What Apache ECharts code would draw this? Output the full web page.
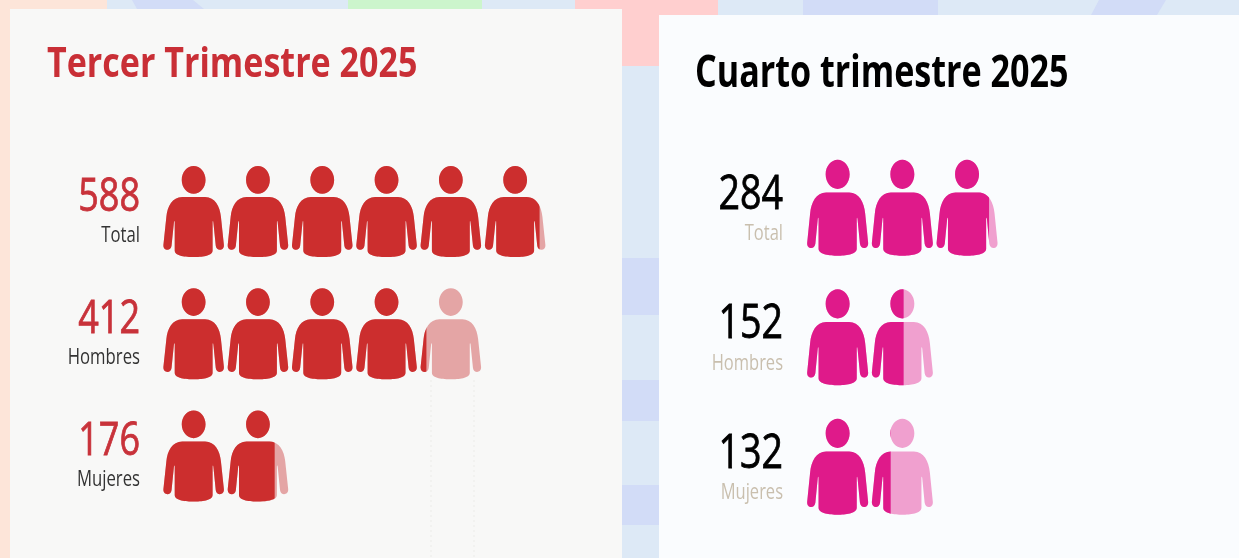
<!DOCTYPE html>
<html><head><meta charset="utf-8">
<style>html,body{margin:0;padding:0;background:#dde9f6}#c{width:1239px;height:558px}</style>
<script src="https://cdn.jsdelivr.net/npm/echarts@6/dist/echarts.min.js"></script>
</head><body><div id="c"></div>
<script>
const categories = ['Total', 'Hombres', 'Mujeres'];
const tercerValues = [588, 412, 176];
const cuartoValues = [284, 152, 132];
const titles = ['Tercer Trimestre 2025', 'Cuarto trimestre 2025'];
const personsPerIcon = 100;
const personIcon = 'path://M19 33L42 33C52 33 57 43 58 54L61 84C61.3 90.5 53.5 91 52.8 85L50.4 60C50.2 58 49.6 58 49.6 60L49.6 90C49.6 96 38 97 30.5 97C23 97 11.4 96 11.4 90L11.4 60C11.4 58 10.8 58 10.6 60L8.2 85C7.5 91 -0.3 90.5 0 84L3 54C4 43 9 33 19 33ZM30.5 0C37 0 42.5 6.5 42.5 14.7C42.5 23 37 29.5 30.5 29.5C24 29.5 18.5 23 18.5 14.7C18.5 6.5 24 0 30.5 0Z';
const FONT = '"Open Sans",sans-serif';

function rect(x, y, w, h, fill, z) { return {type:'rect', silent:true, z:z||-3, shape:{x,y,width:w,height:h}, style:{fill}}; }
function poly(points, fill) { return {type:'polygon', silent:true, z:-3, shape:{points}, style:{fill}}; }
function dots(x, y1, y2) { return {type:'line', silent:true, z:-1, shape:{x1:x,y1:y1,x2:x,y2:y2}, style:{stroke:'#f0f0ee',lineWidth:1.5,lineDash:[2,3]}}; }
function label(text, x, y, size, scale, color, thicken) {
  const style = {text, fill:color, font:'normal '+size+'px '+FONT, align:'right', verticalAlign:'middle'};
  if (thicken) { style.stroke = color; style.lineWidth = thicken; }
  return {type:'text', silent:true, z:10, x, y, scaleX:scale, style};
}
function titleText(text, x, y, size, scale, color) {
  return {type:'text', silent:true, z:10, x, y, scaleX:scale,
    style:{text, fill:color, font:'bold '+size+'px '+FONT, align:'left', verticalAlign:'middle'}};
}

const BLUE='#dde9f6', PERI='#d2dcf7', PEACH='#fde5d9', PINK='#ffcfcf', GREEN='#ccf5cc';
const background = [
  rect(0,0,1239,558,BLUE),
  rect(0,0,107,558,PEACH),
  poly([[132,0],[193,0],[204,9],[137,9]],PERI),
  rect(348,0,134,9,GREEN),
  rect(575,0,143,15,PINK),
  rect(622,0,37,66,PINK),
  rect(622,258,37,57,PERI),
  rect(622,380,37,41,PERI),
  rect(622,485,37,40,PERI),
  rect(803,0,135,15,PERI),
  poly([[1099,0],[1166,0],[1157,15],[1091,15]],PERI),
  rect(10,9,612,549,'#f8f8f7',-2),
  rect(659,15,580,543,'#fafcfe',-2),
  dots(431,380,558),
  dots(474,380,558)
];

function panel(idx, values, g, dark, pale, iconW, iconH, margin) {
  const bound = values.map(v => Math.ceil(v / personsPerIcon) * personsPerIcon);
  return {
    grid: {left:g.left, top:g.top, width:g.unit*6, height:g.height, containLabel:false},
    xAxis: {type:'value', gridIndex:idx, min:0, max:600, show:false},
    yAxis: {type:'category', gridIndex:idx, inverse:true, data:categories, show:false},
    series: [
      {type:'pictorialBar', xAxisIndex:idx, yAxisIndex:idx, symbol:personIcon, symbolRepeat:'fixed', symbolMargin:margin+'!',
       symbolSize:[iconW,iconH], animation:false, z:2, itemStyle:{color:pale}, silent:true,
       data:bound.map(b=>({value:b, symbolBoundingData:b}))},
      {type:'pictorialBar', xAxisIndex:idx, yAxisIndex:idx, symbol:personIcon, symbolRepeat:'fixed', symbolMargin:margin+'!', symbolClip:true,
       symbolSize:[iconW,iconH], animation:false, z:3, itemStyle:{color:dark}, silent:true,
       data:values.map((v,i)=>({value:v, symbolBoundingData:bound[i]}))}
    ]
  };
}
const a = panel(0, tercerValues, {left:161.5,top:150.5,height:366.6,unit:64.3},'#cc2e2e','#e4a5a5',60.5,91,1.9);
const b = panel(1, cuartoValues, {left:805.3,top:143,height:388.5,unit:64.7},'#df1a8a','#f0a0cf',61,96,1.85);

const chart = echarts.init(document.getElementById('c'));
chart.setOption({
  animation:false,
  backgroundColor:BLUE,
  grid:[a.grid,b.grid], xAxis:[a.xAxis,b.xAxis], yAxis:[a.yAxis,b.yAxis],
  series:[...a.series,...b.series]
});
const texts = [
  titleText(titles[0], 47, 65.5, 42, 0.811, '#c92f36'),
  titleText(titles[1], 695, 74, 44, 0.775, '#000000')
];
categories.forEach((c, i) => {
  const yA = chart.convertToPixel({yAxisIndex:0}, c);
  const yB = chart.convertToPixel({yAxisIndex:1}, c);
  texts.push(label(String(tercerValues[i]), 140, yA-13.5, 45, 0.8, '#c8323a', 0.8));
  texts.push(label(c, 140, yA+24, 22, 0.76, '#333333'));
  texts.push(label(String(cuartoValues[i]), 783, yB-12.5, 47, 0.8, '#000000', 0.8));
  texts.push(label(c, 783, yB+26, 22, 0.75, '#c9bfae'));
});
chart.setOption({graphic:[...background, ...texts]});
</script></body></html>
